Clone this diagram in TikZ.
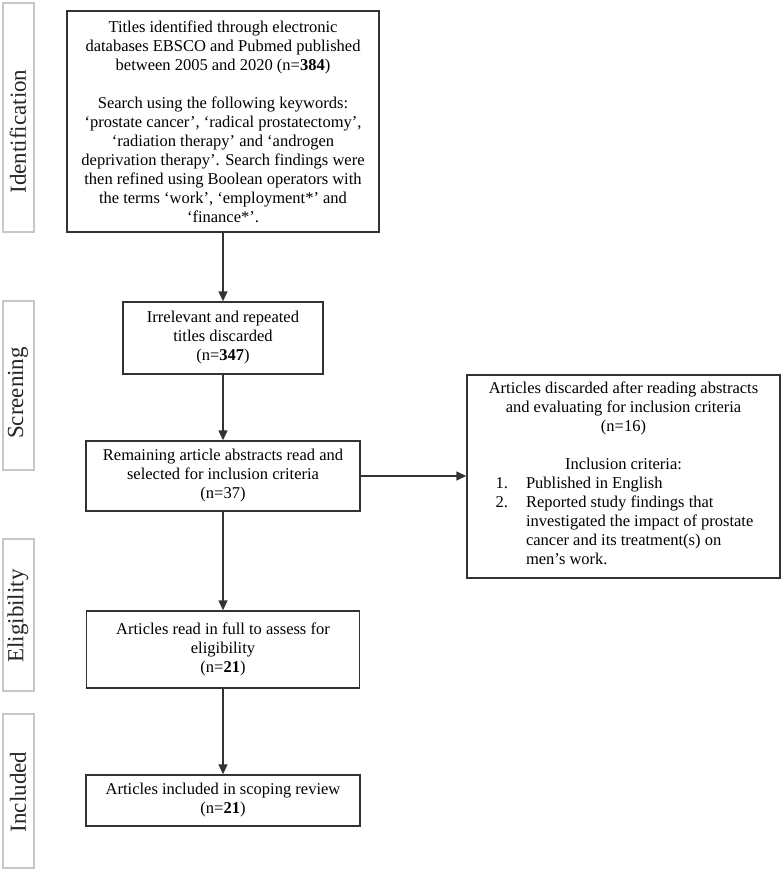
\documentclass[tikz,border=0pt]{standalone}
\usepackage{fontspec}
\setmainfont{Liberation Serif}
\usetikzlibrary{arrows.meta}
\definecolor{edge}{HTML}{333333}
\definecolor{sideedge}{HTML}{C8C8C8}
\tikzset{
  flowbox/.style={draw=edge, line width=1.4pt, rectangle, inner sep=0pt, align=center,
    font=\fontsize{16.5}{19}\selectfont, text=black},
  sidebox/.style={draw=sideedge, line width=1.2pt, rectangle, inner sep=0pt, minimum width=31pt},
  sidelabel/.style={rotate=90, inner sep=0pt, font=\fontsize{23}{26}\selectfont, text=black!85},
  arr/.style={draw=edge, line width=1.4pt, -{Triangle[length=10pt,width=9pt]}}
}
\begin{document}
\begin{tikzpicture}[x=1pt,y=-1pt]
\useasboundingbox (0,0) rectangle (783,871);
\fill[white] (0,0) rectangle (783,871);

% side labels
\node[sidebox, minimum height=229pt] (sid) at (18.5,117.5) {};
\node[sidelabel] (tid) at (18,131.5) {Identification};
\node[sidebox, minimum height=169pt] (sscr) at (18.5,385.5) {};
\node[sidelabel] (tscr) at (18,393) {Screening};
\node[sidebox, minimum height=152pt] (selig) at (18.5,615) {};
\node[sidelabel] (telig) at (18,616) {Eligibility};
\node[sidebox, minimum height=154pt] (sinc) at (18.5,791) {};
\node[sidelabel] (tinc) at (18,792) {Included};

% main boxes
\node[flowbox, minimum width=312pt, minimum height=221pt] (b1) at (223,121.5)
{Titles identified through electronic\\
 databases EBSCO and Pubmed published\\
 between 2005 and 2020 (n=\textbf{384})\\[19pt]
 Search using the following keywords:\\
 ‘prostate cancer’, ‘radical prostatectomy’,\\
 ‘radiation therapy’ and ‘androgen\\
 deprivation therapy’. Search findings were\\
 then refined using Boolean operators with\\
 the terms ‘work’, ‘employment*’ and\\
 ‘finance*’.};

\node[flowbox, minimum width=200pt, minimum height=72pt] (b2) at (223,338)
{Irrelevant and repeated\\ titles discarded\\ (n=\textbf{347})};

\node[flowbox, minimum width=274pt, minimum height=70pt] (b3) at (223,476)
{Remaining article abstracts read and\\ selected for inclusion criteria\\ (n=37)};

\node[flowbox, minimum width=313pt, minimum height=203pt] (ex) at (623.5,476.5)
{Articles discarded after reading abstracts\\
 and evaluating for inclusion criteria\\
 (n=16)\\[19pt]
 Inclusion criteria:\\
 \hspace*{2pt}\begin{tabular}[t]{@{}l@{\hspace{18pt}}l@{}}
 1. & Published in English\\
 2. & Reported study findings that\\
    & investigated the impact of prostate\\
    & cancer and its treatment(s) on\\
    & men’s work.
 \end{tabular}};

\node[flowbox, minimum width=273pt, minimum height=77pt] (b4) at (223,649.5)
{Articles read in full to assess for\\ eligibility\\ (n=\textbf{21})};

\node[flowbox, minimum width=274pt, minimum height=51pt] (b5) at (223,800.5)
{Articles included in scoping review\\ (n=\textbf{21})};

% connectors
\draw[arr] (b1.south) -- (b2.north);
\draw[arr] (b2.south) -- (b3.north);
\draw[arr] (b3.south) -- (b4.north);
\draw[arr] (b4.south) -- (b5.north);
\draw[arr] (b3.east) -- (b3.east -| ex.west);
\end{tikzpicture}
\end{document}
